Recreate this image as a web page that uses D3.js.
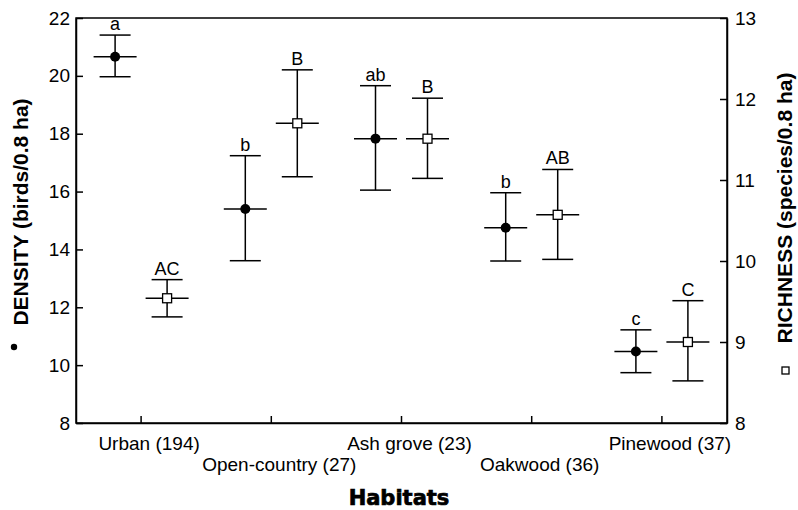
<!DOCTYPE html>
<html><head><meta charset="utf-8">
<script src="https://cdn.jsdelivr.net/npm/d3@7"></script>
<style>body{margin:0;background:#fff}svg{display:block}</style>
</head><body>
<script>
const categories = ["Urban (194)", "Open-country (27)", "Ash grove (23)", "Oakwood (36)", "Pinewood (37)"];
const densityMean = [20.66, 15.40, 17.83, 14.75, 10.47];
const densityLow  = [19.97, 13.61, 16.05, 13.60, 9.74];
const densityHigh = [21.41, 17.24, 19.66, 15.96, 11.22];
const densityLetters = ["a", "b", "ab", "b", "c"];
const richnessMean = [9.54, 11.70, 11.51, 10.57, 9.00];
const richnessLow  = [9.31, 11.04, 11.02, 10.02, 8.52];
const richnessHigh = [9.77, 12.36, 12.01, 11.13, 9.51];
const richnessLetters = ["AC", "B", "B", "AB", "C"];
const densityTicks = [8, 10, 12, 14, 16, 18, 20, 22];
const richnessTicks = [8, 9, 10, 11, 12, 13];

const W = 798, H = 510;
const L = 76, R = 727, T = 18, B = 423;
const svg = d3.select("body").append("svg").attr("width", W).attr("height", H);
const font = "'Liberation Sans', Arial, Helvetica, sans-serif";

const x = d3.scaleBand().domain(categories).range([L, R]).padding(0);
const yL = d3.scaleLinear().domain([8, 22]).range([B, T]);
const yR = d3.scaleLinear().domain([8, 13]).range([B, T]);
const off = 26;

// frame
svg.append("rect").attr("x", L).attr("y", T).attr("width", R - L).attr("height", B - T)
  .attr("fill", "none").attr("stroke", "#000").attr("stroke-width", 1.5);

// left axis
const gl = svg.append("g").attr("transform", `translate(${L},0)`)
  .call(d3.axisLeft(yL).tickValues(densityTicks).tickFormat(d3.format("d")).tickSizeInner(-7).tickSizeOuter(0).tickPadding(6));
// right axis
const gr = svg.append("g").attr("transform", `translate(${R},0)`)
  .call(d3.axisRight(yR).tickValues(richnessTicks).tickFormat(d3.format("d")).tickSizeInner(-7).tickSizeOuter(0).tickPadding(8));
// bottom axis
const gb = svg.append("g").attr("transform", `translate(0,${B})`)
  .call(d3.axisBottom(x).tickSizeInner(-7).tickSizeOuter(0).tickFormat(""));
[gl, gr, gb].forEach(g => {
  g.select(".domain").attr("stroke", "#000").attr("stroke-width", 1.5);
  g.selectAll(".tick line").attr("stroke", "#000").attr("stroke-width", 1.5);
  g.selectAll(".tick text").attr("font-family", font).attr("font-size", 19).attr("fill", "#000");
});

// category labels (staggered)
svg.append("g").selectAll("text").data(categories).join("text")
  .attr("x", d => x(d) + x.bandwidth() / 2 + 8)
  .attr("y", (d, i) => i % 2 === 0 ? 450 : 471)
  .attr("text-anchor", "middle").attr("font-family", font).attr("font-size", 19)
  .text(d => d);

svg.append("text").attr("x", 399).attr("y", 505).attr("text-anchor", "middle")
  .attr("font-family", "'DejaVu Sans', sans-serif").attr("font-weight", "bold").attr("font-size", 21)
  .attr("stroke", "#000").attr("stroke-width", 0.7)
  .text("Habitats");

// axis titles
svg.append("text").attr("transform", "translate(28,212) rotate(-90)").attr("text-anchor", "middle")
  .attr("font-family", font).attr("font-weight", "bold").attr("font-size", 21).text("DENSITY (birds/0.8 ha)");
svg.append("circle").attr("cx", 14).attr("cy", 347).attr("r", 3.2).attr("fill", "#000");
svg.append("text").attr("transform", "translate(792,208) rotate(-90)").attr("text-anchor", "middle")
  .attr("font-family", font).attr("font-weight", "bold").attr("font-size", 21).text("RICHNESS (species/0.8 ha)");
svg.append("rect").attr("x", 782).attr("y", 367).attr("width", 7).attr("height", 7)
  .attr("fill", "#fff").attr("stroke", "#000").attr("stroke-width", 1.3);

function drawSeries(mean, low, high, letters, y, dx, marker) {
  const g = svg.append("g");
  const cx = i => x(categories[i]) + x.bandwidth() / 2 + dx;
  const idx = d3.range(categories.length);
  const line = (x1, y1, x2, y2) => g.append("line").attr("x1", x1).attr("y1", y1).attr("x2", x2).attr("y2", y2)
    .attr("stroke", "#000").attr("stroke-width", 1.5);
  idx.forEach(i => {
    const c = cx(i);
    line(c, y(high[i]), c, y(low[i]));
    line(c - 15.5, y(high[i]), c + 15.5, y(high[i]));
    line(c - 15.5, y(low[i]), c + 15.5, y(low[i]));
    line(c - 21.5, y(mean[i]), c + 21.5, y(mean[i]));
    if (marker === "dot") {
      g.append("circle").attr("cx", c).attr("cy", y(mean[i])).attr("r", 5).attr("fill", "#000");
    } else {
      g.append("rect").attr("x", c - 4.5).attr("y", y(mean[i]) - 4.5).attr("width", 9).attr("height", 9)
        .attr("fill", "#fff").attr("stroke", "#000").attr("stroke-width", 1.3);
    }
    g.append("text").attr("x", c).attr("y", y(high[i]) - 5).attr("text-anchor", "middle")
      .attr("font-family", font).attr("font-size", 18).text(letters[i]);
  });
}
drawSeries(densityMean, densityLow, densityHigh, densityLetters, yL, -off, "dot");
drawSeries(richnessMean, richnessLow, richnessHigh, richnessLetters, yR, off, "square");
</script>
</body></html>
